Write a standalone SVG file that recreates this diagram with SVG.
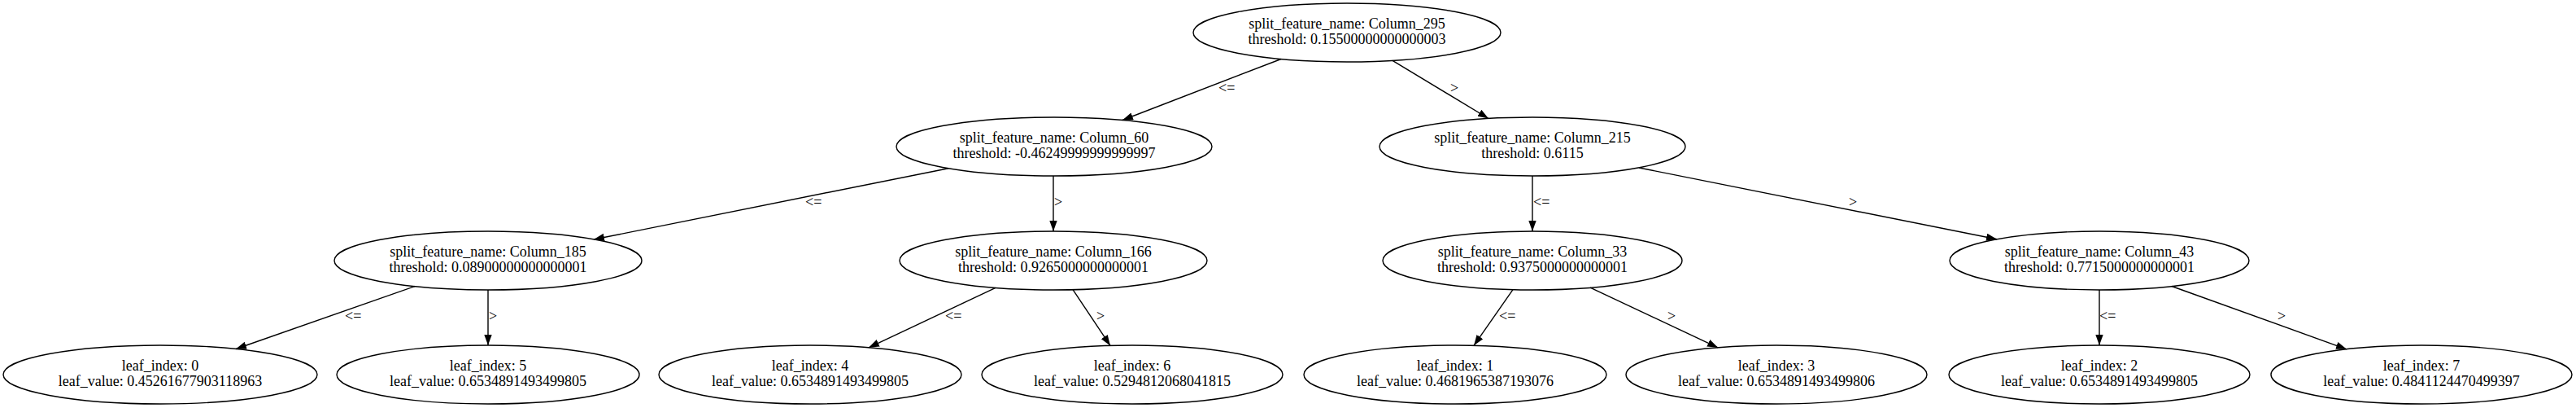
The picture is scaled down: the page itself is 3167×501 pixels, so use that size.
<svg xmlns="http://www.w3.org/2000/svg" width="3167" height="501" viewBox="0 0 3167 501">
<style>
.node ellipse{fill:none;stroke:#000;stroke-width:1.4}
.node text{font-family:"Liberation Serif","Times New Roman",serif;font-size:18px;fill:#000;text-anchor:middle}
.edges path{fill:none;stroke:#000;stroke-width:1.4;marker-end:url(#arr)}
.edges text{font-family:"Liberation Serif","Times New Roman",serif;font-size:18px;fill:#000}
</style>
<defs>
<marker id="arr" markerUnits="userSpaceOnUse" markerWidth="14" markerHeight="10" refX="13" refY="4.7" orient="auto">
<path d="M0,0 L13,4.7 L0,9.4 z" fill="#000"/>
</marker>
</defs>
<rect width="3167" height="501" fill="#fff"/>
<g class="edges" id="edges">
<path d="M1575,72.5 L1380,147.5"/>
<text x="1498" y="114">&lt;=</text>
<path d="M1712,74.4 L1830,145.5"/>
<text x="1783" y="114">&gt;</text>
<path d="M1166,206.7 L730,294"/>
<text x="990" y="254">&lt;=</text>
<path d="M1295,216 L1295,284"/>
<text x="1296" y="254">&gt;</text>
<path d="M1884,216 L1884,284"/>
<text x="1885" y="254">&lt;=</text>
<path d="M2015,206 L2455,293.8"/>
<text x="2273" y="254">&gt;</text>
<path d="M510,351.6 L290,428.5"/>
<text x="424" y="394">&lt;=</text>
<path d="M600,356 L600,424"/>
<text x="601" y="394">&gt;</text>
<path d="M1224,353.4 L1068,426.8"/>
<text x="1162" y="394">&lt;=</text>
<path d="M1319,355.7 L1365,424.4"/>
<text x="1348" y="394">&gt;</text>
<path d="M1860,355.7 L1812,424.3"/>
<text x="1843" y="394">&lt;=</text>
<path d="M1955,353.2 L2112,426.8"/>
<text x="2050" y="394">&gt;</text>
<path d="M2581,356 L2581,424"/>
<text x="2581" y="394">&lt;=</text>
<path d="M2670,351.5 L2885,428.8"/>
<text x="2800" y="394">&gt;</text>
</g>
<g class="node" id="node0"><ellipse cx="1656" cy="40" rx="189" ry="36"/><text x="1656" y="35">split_feature_name: Column_295</text><text x="1656" y="54">threshold: 0.15500000000000003</text></g>
<g class="node" id="node1"><ellipse cx="1296" cy="180" rx="194" ry="36"/><text x="1296" y="175">split_feature_name: Column_60</text><text x="1296" y="194">threshold: -0.46249999999999997</text></g>
<g class="node" id="node2"><ellipse cx="1884" cy="180" rx="188" ry="36"/><text x="1884" y="175">split_feature_name: Column_215</text><text x="1884" y="194">threshold: 0.6115</text></g>
<g class="node" id="node3"><ellipse cx="600" cy="320" rx="189" ry="36"/><text x="600" y="315">split_feature_name: Column_185</text><text x="600" y="334">threshold: 0.08900000000000001</text></g>
<g class="node" id="node4"><ellipse cx="1295" cy="320" rx="189" ry="36"/><text x="1295" y="315">split_feature_name: Column_166</text><text x="1295" y="334">threshold: 0.9265000000000001</text></g>
<g class="node" id="node5"><ellipse cx="1884" cy="320" rx="184" ry="36"/><text x="1884" y="315">split_feature_name: Column_33</text><text x="1884" y="334">threshold: 0.9375000000000001</text></g>
<g class="node" id="node6"><ellipse cx="2581" cy="320" rx="184" ry="36"/><text x="2581" y="315">split_feature_name: Column_43</text><text x="2581" y="334">threshold: 0.7715000000000001</text></g>
<g class="node" id="leaf0"><ellipse cx="197" cy="460" rx="193" ry="36"/><text x="197" y="455">leaf_index: 0</text><text x="197" y="474">leaf_value: 0.45261677903118963</text></g>
<g class="node" id="leaf5"><ellipse cx="600" cy="460" rx="186" ry="36"/><text x="600" y="455">leaf_index: 5</text><text x="600" y="474">leaf_value: 0.6534891493499805</text></g>
<g class="node" id="leaf4"><ellipse cx="996" cy="460" rx="186" ry="36"/><text x="996" y="455">leaf_index: 4</text><text x="996" y="474">leaf_value: 0.6534891493499805</text></g>
<g class="node" id="leaf6"><ellipse cx="1392" cy="460" rx="185" ry="36"/><text x="1392" y="455">leaf_index: 6</text><text x="1392" y="474">leaf_value: 0.5294812068041815</text></g>
<g class="node" id="leaf1"><ellipse cx="1789" cy="460" rx="186" ry="36"/><text x="1789" y="455">leaf_index: 1</text><text x="1789" y="474">leaf_value: 0.4681965387193076</text></g>
<g class="node" id="leaf3"><ellipse cx="2184" cy="460" rx="185" ry="36"/><text x="2184" y="455">leaf_index: 3</text><text x="2184" y="474">leaf_value: 0.6534891493499806</text></g>
<g class="node" id="leaf2"><ellipse cx="2581" cy="460" rx="185" ry="36"/><text x="2581" y="455">leaf_index: 2</text><text x="2581" y="474">leaf_value: 0.6534891493499805</text></g>
<g class="node" id="leaf7"><ellipse cx="2977" cy="460" rx="185" ry="36"/><text x="2977" y="455">leaf_index: 7</text><text x="2977" y="474">leaf_value: 0.4841124470499397</text></g>
</svg>
